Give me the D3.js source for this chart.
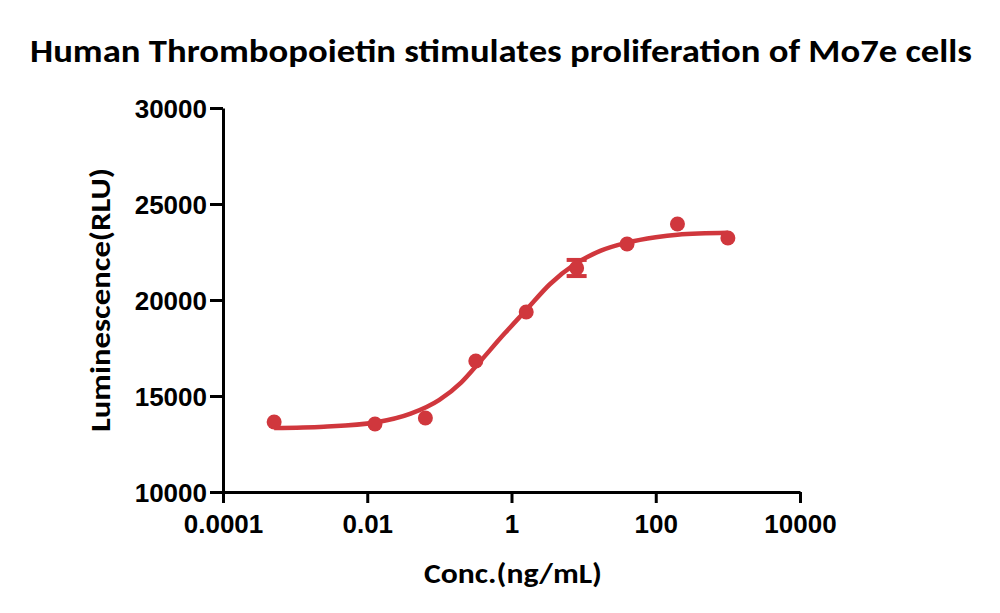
<!DOCTYPE html>
<html><head><meta charset="utf-8">
<script src="https://cdn.jsdelivr.net/npm/d3@7"></script>
<style>
html,body{margin:0;padding:0;background:#fff;}
svg{display:block;}
</style></head>
<body>
<svg id="chart" width="1000" height="613"></svg>
<script>
// ---- data ----
const conc = [0.000512, 0.0128, 0.064, 0.32, 1.6, 8, 40, 200, 1000];
const rlu  = [13646, 13542, 13854, 16823, 19375, 21667, 22917, 23958, 23229];
const rluErr = [0, 0, 0, 0, 0, 420, 0, 0, 0];
// fitted curve
const curveConc = [0.000512, 0.0025, 0.0128, 0.04, 0.1, 0.2, 0.33, 0.8, 1.6, 3.4, 7.5, 17, 40, 100, 200, 1000];
const curveRlu  = [13330, 13400, 13620, 14080, 14800, 15700, 16600, 18250, 19480, 20820, 21850, 22560, 22990, 23270, 23400, 23500];
const xTicks = [0.0001, 0.01, 1, 100, 10000];
const xTickLabels = ["0.0001", "0.01", "1", "100", "10000"];
const yTicks = [10000, 15000, 20000, 25000, 30000];
const yTickLabels = ["10000", "15000", "20000", "25000", "30000"];
const title = "Human Thrombopoietin stimulates proliferation of Mo7e cells";
const xTitle = "Conc.(ng/mL)";
const yTitle = "Luminescence(RLU)";

const red = "#d0373d";
const calibri = "Carlito, Lato, 'Open Sans', sans-serif";
const svg = d3.select("#chart");

const x = d3.scaleLog().domain([1e-4, 1e4]).range([223, 800]);
const y = d3.scaleLinear().domain([10000, 30000]).range([492, 108]);

// axes
const xAxis = d3.axisBottom(x).tickValues(xTicks)
  .tickFormat((d, i) => xTickLabels[i]).tickSizeInner(11).tickSizeOuter(0).tickPadding(6);
const gx = svg.append("g").attr("transform", "translate(0,492)").call(xAxis);
const yAxis = d3.axisLeft(y).tickValues(yTicks)
  .tickFormat((d, i) => yTickLabels[i]).tickSizeInner(13).tickSizeOuter(0).tickPadding(3);
const gy = svg.append("g").attr("transform", "translate(223,0)").call(yAxis);

[gx, gy].forEach(g => {
  g.select(".domain").attr("stroke", "#000").attr("stroke-width", 3);
  g.selectAll(".tick line").attr("stroke", "#000").attr("stroke-width", 3);
  g.selectAll(".tick text").attr("fill", "#000")
    .style("font-family", "'Liberation Sans', Arial, sans-serif")
    .style("font-weight", "bold").style("font-size", "26px");
});
gy.selectAll(".tick text").attr("dy", "0.36em");
gx.selectAll(".tick text").attr("dy", "0.92em");

// curve
const line = d3.line().x(d => x(d[0])).y(d => y(d[1])).curve(d3.curveMonotoneX);
svg.append("path")
  .datum(curveConc.map((c, i) => [c, curveRlu[i]]))
  .attr("d", line).attr("fill", "none").attr("stroke", red).attr("stroke-width", 4.5);

// error bars
const pts = conc.map((c, i) => ({c, v: rlu[i], e: rluErr[i]}));
const eb = svg.append("g").selectAll("g").data(pts.filter(d => d.e > 0)).join("g");
eb.append("line").attr("x1", d => x(d.c)).attr("x2", d => x(d.c))
  .attr("y1", d => y(d.v - d.e)).attr("y2", d => y(d.v + d.e))
  .attr("stroke", red).attr("stroke-width", 4);
eb.append("line").attr("x1", d => x(d.c) - 10).attr("x2", d => x(d.c) + 10)
  .attr("y1", d => y(d.v - d.e)).attr("y2", d => y(d.v - d.e))
  .attr("stroke", red).attr("stroke-width", 4);
eb.append("line").attr("x1", d => x(d.c) - 10).attr("x2", d => x(d.c) + 10)
  .attr("y1", d => y(d.v + d.e)).attr("y2", d => y(d.v + d.e))
  .attr("stroke", red).attr("stroke-width", 4);

// points
svg.append("g").selectAll("circle").data(pts).join("circle")
  .attr("cx", d => x(d.c)).attr("cy", d => y(d.v)).attr("r", 7.5).attr("fill", red);

// titles
svg.append("text").attr("x", 501).attr("y", 62).attr("text-anchor", "middle")
  .style("font-family", calibri).style("font-weight", "bold").style("font-size", "32px")
  .attr("fill", "#000").text(title)
  .attr("textLength", 942).attr("lengthAdjust", "spacingAndGlyphs");

svg.append("text").attr("x", 513).attr("y", 583).attr("text-anchor", "middle")
  .style("font-family", calibri).style("font-weight", "bold").style("font-size", "29px")
  .attr("fill", "#000").text(xTitle)
  .attr("textLength", 178).attr("lengthAdjust", "spacingAndGlyphs");

svg.append("text").attr("transform", "translate(110,300) rotate(-90)").attr("text-anchor", "middle")
  .style("font-family", calibri).style("font-weight", "bold").style("font-size", "29px")
  .attr("fill", "#000").text(yTitle)
  .attr("textLength", 264).attr("lengthAdjust", "spacingAndGlyphs");
</script>
</body></html>
